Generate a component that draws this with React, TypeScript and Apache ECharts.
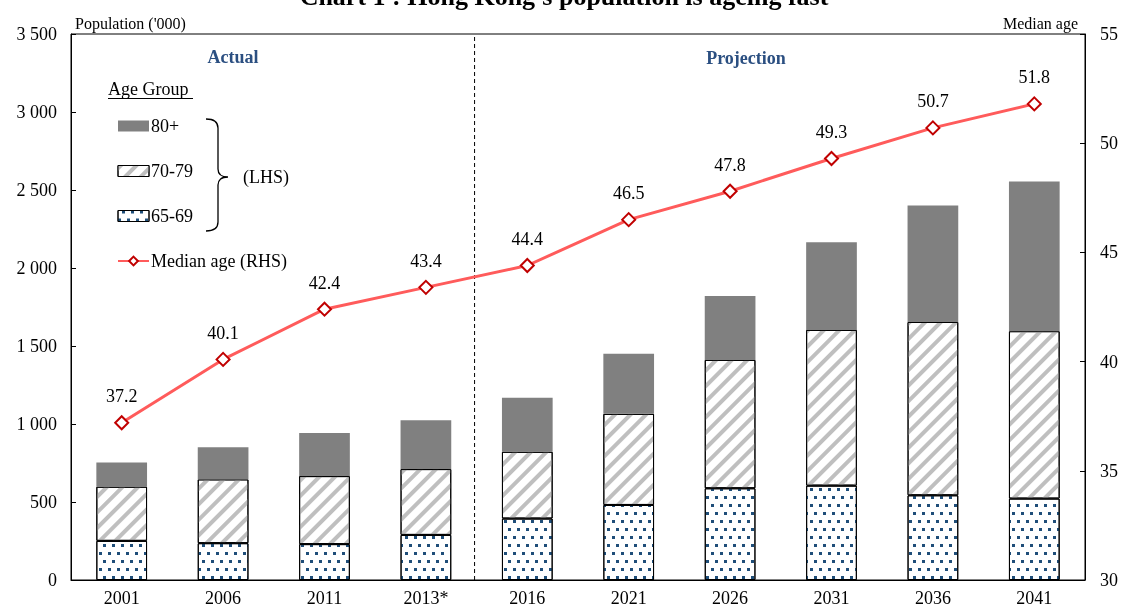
import React, { useEffect, useRef } from "react";
import * as echarts from "echarts";

const categories = ["2001", "2006", "2011", "2013*", "2016", "2021", "2026", "2031", "2036", "2041"];
const age6569 = [251, 236, 230, 289, 394, 481, 588, 605, 543, 522];
const age7079 = [347, 409, 436, 422, 428, 584, 823, 998, 1111, 1073];
const age80plus = [156, 206, 277, 313, 347, 385, 409, 562, 747, 960];
const medianAge = [37.2, 40.1, 42.4, 43.4, 44.4, 46.5, 47.8, 49.3, 50.7, 51.8];
const dividerAt = 3.48; // boundary between actual and projection (category index)

const FONT = "'Liberation Serif', 'Times New Roman', serif";

const bracePath =
  "M0 0 C8 0 12 3 12 9 L12 50 C12 55 15 58 22 58 C15 58 12 61 12 66 L12 103 C12 109 8 112 0 112";
echarts.graphic.registerShape("brace", echarts.graphic.extendPath(bracePath, {}) as any);

export default function App() {
  const ref = useRef<HTMLDivElement>(null);
  useEffect(() => {
    if (!ref.current) return;
    const chart = echarts.init(ref.current, undefined, { renderer: "svg" });
    const fmt = (v: number) => String(v).replace(/\B(?=(\d{3})+(?!\d))/g, " ");
    chart.setOption({
      animation: false,
      textStyle: { fontFamily: FONT, color: "#000" },
      grid: {
        left: 71,
        right: 36,
        top: 34,
        bottom: 25,
        show: true,
        borderColor: "#000",
        borderWidth: 1,
        backgroundColor: "transparent",
      },
      legend: {
        data: [
          { name: "80+", icon: "rect", itemStyle: { borderWidth: 0 } },
          { name: "70-79", icon: "rect", itemStyle: { borderWidth: 1, borderColor: "#000" } },
          { name: "65-69", icon: "rect", itemStyle: { borderWidth: 1, borderColor: "#000" } },
          { name: "Median age (RHS)" },
        ],
        orient: "vertical",
        left: 117,
        top: 116,
        padding: 0,
        itemWidth: 31,
        itemHeight: 11,
        itemGap: 25,
        selectedMode: false,
        textStyle: { fontFamily: FONT, fontSize: 18, color: "#000", lineHeight: 20, padding: [0, 0, 0, -3] },
      },
      xAxis: [
        {
          type: "category",
          data: categories,
          axisLine: { lineStyle: { color: "#000", width: 1 } },
          axisTick: { inside: true, length: 5, lineStyle: { color: "#000" } },
          axisLabel: { fontFamily: FONT, fontSize: 18, color: "#000", margin: 9 },
        },
        { type: "value", min: -0.5, max: 9.5, show: false },
      ],
      yAxis: [
        {
          type: "value",
          min: 0,
          max: 3500,
          interval: 500,
          splitLine: { show: false },
          axisLine: { show: true, onZero: false, lineStyle: { color: "#000" } },
          axisTick: { show: true, inside: true, length: 5, lineStyle: { color: "#000" } },
          axisLabel: { fontFamily: FONT, fontSize: 18, color: "#000", margin: 14, formatter: fmt },
        },
        {
          type: "value",
          min: 30,
          max: 55,
          interval: 5,
          position: "right",
          splitLine: { show: false },
          axisLine: { show: true, onZero: false, lineStyle: { color: "#000" } },
          axisTick: { show: true, inside: true, length: 5, lineStyle: { color: "#000" } },
          axisLabel: { fontFamily: FONT, fontSize: 18, color: "#000", margin: 15 },
        },
      ],
      series: [
        {
          name: "65-69",
          type: "bar",
          stack: "pop",
          barWidth: "50%",
          data: age6569,
          itemStyle: {
            color: "#ffffff",
            borderColor: "#000",
            borderWidth: 1,
            decal: {
              symbol: "rect",
              symbolSize: 1,
              color: "#1F4E79",
              dashArrayX: [[2.5, 5.5], [0, 4, 2.5, 1.5]],
              dashArrayY: [2.5, 5],
            },
          },
        },
        {
          name: "70-79",
          type: "bar",
          stack: "pop",
          barWidth: "50%",
          data: age7079,
          itemStyle: {
            color: "#ffffff",
            borderColor: "#000",
            borderWidth: 1,
            decal: {
              symbol: "rect",
              symbolSize: 1,
              color: "#BFBFBF",
              dashArrayX: [1, 0],
              dashArrayY: [3.5, 7],
              rotation: -Math.PI / 4,
            },
          },
        },
        {
          name: "80+",
          type: "bar",
          stack: "pop",
          barWidth: "50%",
          data: age80plus,
          itemStyle: { color: "#808080" },
        },
        {
          name: "divider",
          type: "line",
          xAxisIndex: 1,
          yAxisIndex: 0,
          data: [
            [dividerAt, 0],
            [dividerAt, 3500],
          ],
          symbol: "none",
          lineStyle: { color: "#000", width: 1, type: [4, 3] },
          silent: true,
        },
        {
          name: "Median age (RHS)",
          type: "line",
          yAxisIndex: 1,
          data: medianAge,
          symbol: "diamond",
          symbolSize: 13,
          lineStyle: { color: "#FF5B5B", width: 3 },
          itemStyle: { color: "#ffffff", borderColor: "#C00000", borderWidth: 2 },
          label: {
            show: true,
            position: "top",
            distance: 10,
            fontFamily: FONT,
            fontSize: 18,
            color: "#000",
            formatter: (p: any) => p.value.toFixed(1),
          },
          z: 5,
        },
      ],
      graphic: [
        {
          type: "text",
          style: {
            text: "Chart 1 : Hong Kong's population is ageing fast",
            x: 564,
            y: -4,
            textAlign: "center",
            textVerticalAlign: "middle",
            font: `bold 26px ${FONT}`,
            fill: "#000",
          },
        },
        {
          type: "text",
          style: {
            text: "Population ('000)",
            x: 75,
            y: 23,
            textAlign: "left",
            textVerticalAlign: "middle",
            font: `16px ${FONT}`,
            fill: "#000",
          },
        },
        {
          type: "text",
          style: {
            text: "Median age",
            x: 1078,
            y: 23,
            textAlign: "right",
            textVerticalAlign: "middle",
            font: `16px ${FONT}`,
            fill: "#000",
          },
        },
        {
          type: "text",
          style: {
            text: "Actual",
            x: 233,
            y: 57,
            textAlign: "center",
            textVerticalAlign: "middle",
            font: `bold 18px ${FONT}`,
            fill: "#2B4F81",
          },
        },
        {
          type: "text",
          style: {
            text: "Projection",
            x: 746,
            y: 58,
            textAlign: "center",
            textVerticalAlign: "middle",
            font: `bold 18px ${FONT}`,
            fill: "#2B4F81",
          },
        },
        {
          type: "text",
          style: {
            text: "Age Group",
            x: 108,
            y: 89,
            textAlign: "left",
            textVerticalAlign: "middle",
            font: `18px ${FONT}`,
            fill: "#000",
          },
        },
        {
          type: "line",
          shape: { x1: 108, y1: 98.5, x2: 193, y2: 98.5 },
          style: { stroke: "#000", lineWidth: 1 },
        },
        {
          type: "brace",
          x: 206,
          y: 119,
          style: { stroke: "#000", fill: "none", lineWidth: 1.3 },
        },
        {
          type: "text",
          style: {
            text: "(LHS)",
            x: 243,
            y: 177,
            textAlign: "left",
            textVerticalAlign: "middle",
            font: `18px ${FONT}`,
            fill: "#000",
          },
        },
      ],
    });
    return () => chart.dispose();
  }, []);
  return (
    <div
      ref={ref}
      style={{ position: "fixed", left: 0, top: 0, width: 1121, height: 607 }}
    />
  );
}
